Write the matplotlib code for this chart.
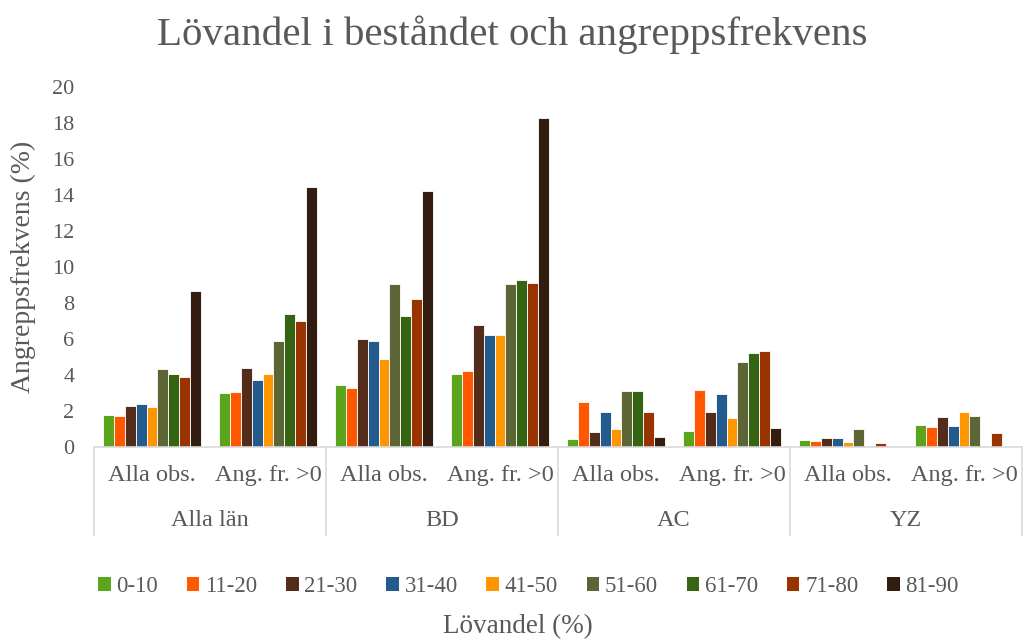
import matplotlib.pyplot as plt
from matplotlib.patches import Patch
import numpy as np

plt.rcParams['font.family'] = ['Liberation Serif', 'DejaVu Serif']
txt_color = '#595959'
line_color = '#d9d9d9'

groups = ['Alla län', 'BD', 'AC', 'YZ']
subcats = ['Alla obs.', 'Ang. fr. >0']
series = ['0-10', '11-20', '21-30', '31-40', '41-50',
          '51-60', '61-70', '71-80', '81-90']
colors = ['#5AA51B', '#FF5800', '#542D1A', '#235B8E', '#FF9600',
          '#5D6436', '#356412', '#993300', '#331C10']

# order: Alla län obs, Alla län ang, BD obs, BD ang, AC obs, AC ang, YZ obs, YZ ang
v_0_10 = [1.8, 3.0, 3.45, 4.05, 0.45, 0.9, 0.4, 1.25]
v_11_20 = [1.75, 3.05, 3.3, 4.2, 2.5, 3.15, 0.35, 1.1]
v_21_30 = [2.3, 4.4, 6.0, 6.8, 0.85, 1.95, 0.5, 1.65]
v_31_40 = [2.4, 3.7, 5.9, 6.2, 1.95, 2.95, 0.5, 1.15]
v_41_50 = [2.25, 4.05, 4.9, 6.25, 1.0, 1.6, 0.3, 1.95]
v_51_60 = [4.35, 5.9, 9.05, 9.05, 3.1, 4.7, 1.0, 1.7]
v_61_70 = [4.05, 7.4, 7.3, 9.3, 3.1, 5.2, 0, 0]
v_71_80 = [3.9, 7.0, 8.2, 9.1, 1.95, 5.35, 0.25, 0.8]
v_81_90 = [8.65, 14.45, 14.25, 18.3, 0.55, 1.05, 0, 0]
values = [v_0_10, v_11_20, v_21_30, v_31_40, v_41_50,
          v_51_60, v_61_70, v_71_80, v_81_90]

fig = plt.figure(figsize=(10.24, 6.39), dpi=100)
ax = fig.add_axes([94 / 1024, 1 - 447 / 639, 928 / 1024, 360 / 639])

n_cat = len(groups) * len(subcats)
x = np.arange(n_cat)
bw = 98 / 116 / 9
for i, (lab, vals) in enumerate(zip(series, values)):
    ax.bar(x + (i - 4) * bw, vals, width=bw, color=colors[i],
           edgecolor='white', linewidth=0.6, label=lab)

ax.set_xlim(-0.5, n_cat - 0.5)
ax.set_ylim(0, 20)
ax.set_yticks(range(0, 21, 2))
ax.tick_params(axis='y', length=0, labelsize=16, labelcolor=txt_color, pad=14)
ax.set_xticks([])
for s in ['top', 'right', 'left']:
    ax.spines[s].set_visible(False)
ax.spines['bottom'].set_color(line_color)
ax.spines['bottom'].set_linewidth(1.2)

ax.set_ylabel('Angreppsfrekvens (%)', fontsize=20, color=txt_color, labelpad=12)

# multi-level category axis
trans = ax.get_xaxis_transform()
for k in range(n_cat):
    ax.text(k, -0.08, subcats[k % 2], transform=trans, ha='center', va='center',
            fontsize=17.5, color=txt_color)
for g, name in enumerate(groups):
    ax.text(2 * g + 0.5, -0.205, name, transform=trans, ha='center', va='center',
            fontsize=17.5, color=txt_color)
for b in np.arange(-0.5, n_cat, 2):
    ax.plot([b, b], [0, -0.245], transform=trans, color=line_color,
            linewidth=1.2, clip_on=False)

fig.suptitle('Lövandel i beståndet och angreppsfrekvens', y=0.976,
             fontsize=29.5, color=txt_color)

handles = [Patch(facecolor=c) for c in colors]
fig.legend(handles, series, loc='center', bbox_to_anchor=(0.516, 1 - 587 / 639),
           ncol=9, frameon=False, fontsize=16.5, labelcolor=txt_color,
           handlelength=0.55, handleheight=0.55, handletextpad=0.25,
           columnspacing=1.25)
fig.text(0.506, 1 - 627 / 639, 'Lövandel (%)', ha='center', va='center',
         fontsize=19.5, color=txt_color)

fig.savefig('out.png', dpi=100)
